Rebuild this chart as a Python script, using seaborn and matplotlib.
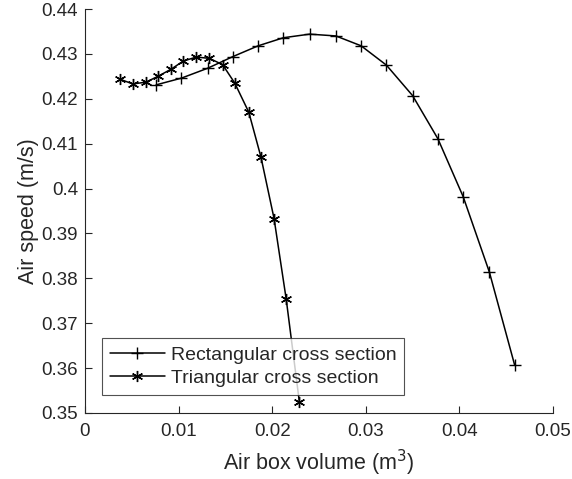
import numpy as np
import pandas as pd
import matplotlib
matplotlib.use("Agg")
import matplotlib.pyplot as plt
import seaborn as sns

# Values
rect_volume = [0.0076, 0.0103, 0.0131, 0.0158, 0.0185, 0.0212, 0.0240, 0.0268,
               0.0295, 0.0322, 0.0350, 0.0377, 0.0404, 0.0432, 0.0459]
rect_speed = [0.4231, 0.4246, 0.4268, 0.4294, 0.4318, 0.4336, 0.4344, 0.4340,
              0.4318, 0.4275, 0.4207, 0.4111, 0.3982, 0.3814, 0.3607]

tri_volume = [0.0037, 0.0051, 0.0065, 0.0078, 0.0092, 0.0105, 0.0119, 0.0133,
              0.0147, 0.0160, 0.0175, 0.0188, 0.0202, 0.0215, 0.0229]
tri_speed = [0.4244, 0.4233, 0.4237, 0.4250, 0.4266, 0.4284, 0.4293, 0.4290,
             0.4276, 0.4235, 0.4170, 0.4070, 0.3933, 0.3753, 0.3525]

x_ticks = [0, 0.01, 0.02, 0.03, 0.04, 0.05]
x_tick_labels = ["0", "0.01", "0.02", "0.03", "0.04", "0.05"]
y_ticks = [0.35, 0.36, 0.37, 0.38, 0.39, 0.40, 0.41, 0.42, 0.43, 0.44]
y_tick_labels = ["0.35", "0.36", "0.37", "0.38", "0.39", "0.4", "0.41", "0.42", "0.43", "0.44"]

sns.set_style("white")
plt.rcParams['font.family'] = ['Liberation Sans', 'DejaVu Sans']

fig = plt.figure(figsize=(5.72, 4.79), dpi=100)
ax = fig.add_axes([0.1486, 0.1378, 0.8182, 0.8434])

rect = pd.DataFrame({'volume': rect_volume, 'speed': rect_speed})
tri = pd.DataFrame({'volume': tri_volume, 'speed': tri_speed})

sns.lineplot(data=rect, x='volume', y='speed', sort=False, color='black',
             linewidth=1.1, marker='+', markersize=9, markeredgewidth=1.0,
             markeredgecolor='black', label='Rectangular cross section', ax=ax)
sns.lineplot(data=tri, x='volume', y='speed', sort=False, color='black',
             linewidth=1.1, marker=(6, 2, 0), markersize=8, markeredgewidth=1.0,
             markeredgecolor='black', label='Triangular cross section', ax=ax)

ax.set_xlim(0, 0.05)
ax.set_ylim(0.35, 0.44)
ax.set_xticks(x_ticks)
ax.set_xticklabels(x_tick_labels)
ax.set_yticks(y_ticks)
ax.set_yticklabels(y_tick_labels)

ax.tick_params(bottom=True, left=True, direction='in', length=5, width=0.8,
               colors='#262626', labelsize=13.5)
ax.tick_params(axis='x', pad=7.5)
ax.tick_params(axis='y', pad=5)
for side in ['top', 'right']:
    ax.spines[side].set_visible(False)
for side in ['left', 'bottom']:
    ax.spines[side].set_color('#262626')
    ax.spines[side].set_linewidth(0.8)

ax.set_xlabel('Air box volume (m$^3$)', fontsize=15.5, color='#262626', labelpad=5)
ax.set_ylabel('Air speed (m/s)', fontsize=15.5, color='#262626', labelpad=2)

leg = ax.legend(loc='lower left', bbox_to_anchor=(0.036, 0.045), fontsize=14,
                frameon=True, fancybox=False, handlelength=2.85, borderpad=0.4,
                labelspacing=0.3, handletextpad=0.3, borderaxespad=0)
leg.get_frame().set_edgecolor('#262626')
leg.get_frame().set_linewidth(0.8)
for t in leg.get_texts():
    t.set_color('#262626')

fig.savefig('out.png', dpi=100)
